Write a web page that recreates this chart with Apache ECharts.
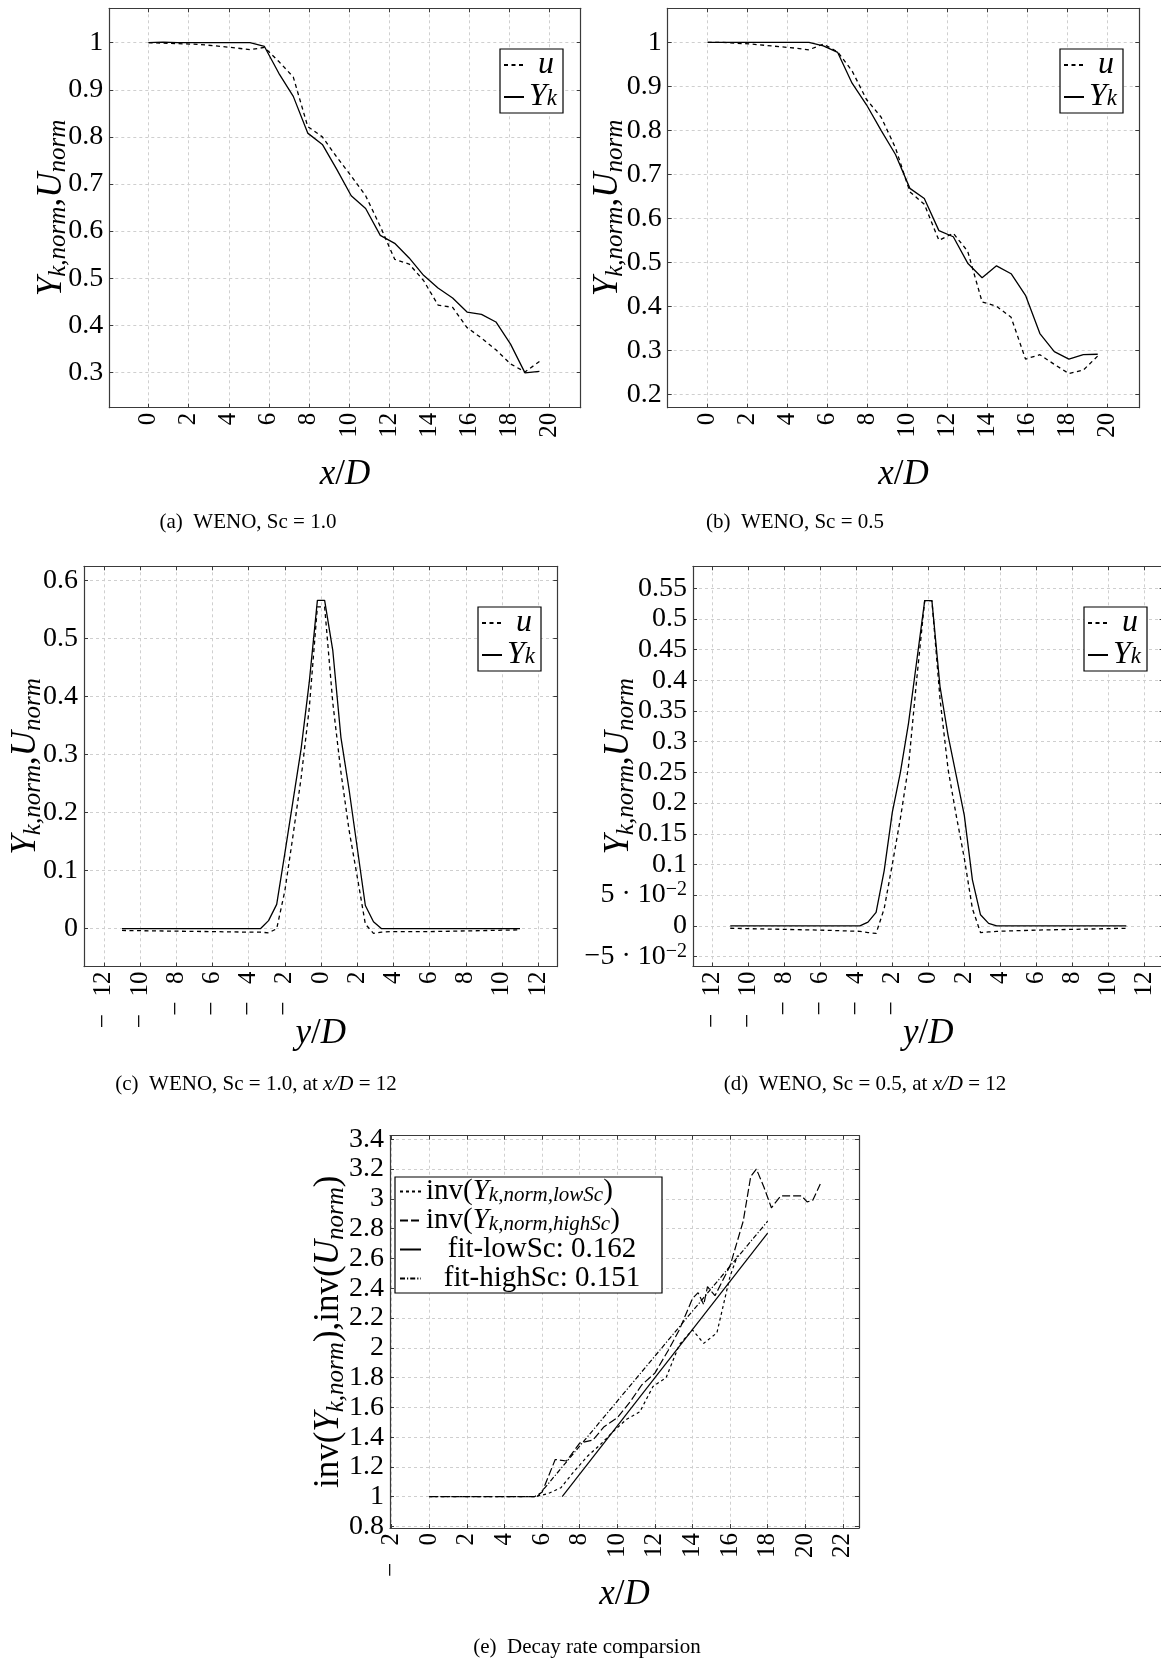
<!DOCTYPE html>
<html><head><meta charset="utf-8">
<script src="https://cdn.jsdelivr.net/npm/echarts@6/dist/echarts.min.js"></script>
<style>html,body{margin:0;padding:0;background:#fff}#c{width:1161px;height:1667px}</style>
</head><body><div id="c"></div>
<script>
// ---------- data ----------
const xAB = [0,0.72,1.44,2.17,2.89,3.61,4.33,5.06,5.78,6.5,7.22,7.94,8.67,9.39,10.11,10.83,11.56,12.28,13.0,13.72,14.44,15.17,15.89,16.61,17.33,18.06,18.78,19.5];
const uA  = [1.0,0.999,0.998,0.997,0.995,0.992,0.989,0.985,0.99,0.96,0.927,0.822,0.8,0.757,0.717,0.675,0.61,0.54,0.53,0.495,0.443,0.438,0.395,0.373,0.348,0.318,0.301,0.323];
const ykA = [1.0,1.001,1.0,1.0,1.0,1.0,1.0,1.0,0.992,0.935,0.886,0.808,0.784,0.731,0.675,0.648,0.591,0.574,0.543,0.506,0.479,0.458,0.428,0.423,0.407,0.36,0.299,0.302];
const uB  = [1.0,1.0,0.998,0.996,0.993,0.99,0.987,0.983,0.996,0.978,0.935,0.87,0.83,0.76,0.66,0.632,0.55,0.566,0.525,0.41,0.40,0.375,0.28,0.29,0.268,0.247,0.255,0.287];
const ykB = [1.0,1.0,1.0,1.0,1.0,1.0,1.0,1.0,0.992,0.977,0.907,0.858,0.80,0.745,0.668,0.645,0.572,0.558,0.498,0.465,0.492,0.474,0.425,0.338,0.297,0.28,0.29,0.291];

const xCD = [-11,-6,-3.8,-3.35,-2.9,-2.45,-2.0,-1.55,-1.1,-0.65,-0.2,0.2,0.65,1.1,1.55,2.0,2.45,2.9,3.35,3.8,6,11];
const uC  = [-0.003,-0.005,-0.006,-0.006,-0.007,0.0,0.065,0.16,0.26,0.38,0.555,0.555,0.39,0.27,0.17,0.09,0.008,-0.008,-0.006,-0.005,-0.005,-0.002];
const ykC = [0,0,0,0.0,0.014,0.042,0.13,0.22,0.31,0.425,0.566,0.566,0.48,0.33,0.24,0.14,0.04,0.012,0.0,0,0,0];
const uD  = [-0.004,-0.007,-0.009,-0.011,-0.0124,0.028,0.1,0.175,0.26,0.4,0.53,0.53,0.37,0.255,0.18,0.11,0.028,-0.011,-0.01,-0.009,-0.007,-0.004];
const ykD = [0,0,0,0.006,0.022,0.09,0.185,0.25,0.33,0.43,0.53,0.53,0.39,0.31,0.245,0.18,0.075,0.018,0.004,0,0,0];

const xELow = [0,2,4,5.6,6.3,7.0,7.7,8.4,9.1,9.8,10.5,11.2,11.9,12.6,13.3,14.0,14.6,15.3,16.0,16.4];
const eLow  = [1,1,1,1,1.02,1.06,1.17,1.27,1.35,1.44,1.52,1.57,1.74,1.80,2.02,2.12,2.03,2.10,2.48,2.62];
const xEHigh = [0,2,4,5.6,6.0,6.7,7.3,8.0,8.7,9.3,10.0,10.7,11.3,12.0,12.7,13.3,14.0,14.3,14.6,14.8,15.2,16.0,16.7,17.1,17.4,17.8,18.2,18.7,19.3,19.8,20.1,20.4,20.8];
const eHigh  = [1,1,1,1,1.03,1.25,1.24,1.36,1.38,1.47,1.53,1.64,1.75,1.83,1.98,2.12,2.33,2.37,2.29,2.41,2.35,2.55,2.85,3.15,3.2,3.08,2.94,3.02,3.02,3.02,2.98,2.99,3.1];
const fitLowX = [7.07,18], fitLowY = [1.0,2.77];
const fitHighX = [5.75,18], fitHighY = [1.0,2.85];

const captions = ['(a)  WENO, Sc = 1.0','(b)  WENO, Sc = 0.5','(c)  WENO, Sc = 1.0, at {i|x/D} = 12','(d)  WENO, Sc = 0.5, at {i|x/D} = 12','(e)  Decay rate comparsion'];

// ---------- helpers ----------
const F = 'Liberation Serif';
const pairs = (xs, ys) => xs.map((x, i) => [x, ys[i]]);
const NR = {
  m:{fontFamily:F,fontStyle:'italic',fontSize:35,lineHeight:40,color:'#000'},
  r:{fontFamily:F,fontSize:35,lineHeight:40,color:'#000'},
  s:{fontFamily:F,fontStyle:'italic',fontSize:25,lineHeight:17,verticalAlign:'bottom',color:'#000'}
};
const frame = {show:true,onZero:false,lineStyle:{color:'#3a3a3a',width:1.2}};
const tick = {show:true,inside:true,length:4,lineStyle:{color:'#3a3a3a',width:1}};
const split = {show:true,lineStyle:{type:[3,3],color:'#cfcfcf',width:1}};
const fmtX = v => v < 0 ? '\u2212\u2002\u2009' + Math.abs(v) : String(v);
const fmtY = v => String(+v.toFixed(3));
const fmtYd = v => {
  if (Math.abs(v - 0.05) < 1e-9) return '{n|5 \u00b7 10}{p|\u22122}';
  if (Math.abs(v + 0.05) < 1e-9) return '{n|\u22125 \u00b7 10}{p|\u22122}';
  return '{n|' + String(+v.toFixed(3)) + '}';
};
const ylabRich = {
  n:{fontFamily:F,fontSize:28,lineHeight:30,color:'#000'},
  p:{fontFamily:F,fontSize:20,lineHeight:14,verticalAlign:'top',color:'#000'}
};

const grids = [], xAxes = [], yAxes = [];
function addPanel(g, xr, xs, yr, ys, xname, yname, ynameGap, yfmt) {
  const gi = grids.length;
  grids.push(Object.assign({containLabel:false, outerBoundsMode:'none'}, g));
  xAxes.push({type:'value',gridIndex:gi,position:'bottom',min:xr[0],max:xr[1],splitNumber:xs,
    axisLine:frame,axisTick:tick,splitLine:split,
    axisLabel:{rotate:90,margin:5,fontSize:25,fontFamily:F,color:'#000',showMinLabel:false,showMaxLabel:false,formatter:fmtX},
    name:xname,nameLocation:'middle',nameGap:47,nameMoveOverlap:false,nameTextStyle:{rich:NR}});
  xAxes.push({type:'value',gridIndex:gi,position:'top',min:xr[0],max:xr[1],splitNumber:xs,
    axisLine:frame,axisTick:tick,splitLine:{show:false},axisLabel:{show:false}});
  yAxes.push({type:'value',gridIndex:gi,position:'left',min:yr[0],max:yr[1],splitNumber:ys,
    axisLine:frame,axisTick:tick,splitLine:split,
    axisLabel:{margin:6,fontSize:28,fontFamily:F,color:'#000',showMinLabel:false,showMaxLabel:false,formatter:yfmt,rich:ylabRich},
    name:yname,nameLocation:'middle',nameRotate:90,nameGap:ynameGap,nameMoveOverlap:false,nameTextStyle:{rich:NR}});
  yAxes.push({type:'value',gridIndex:gi,position:'right',min:yr[0],max:yr[1],splitNumber:ys,
    axisLine:frame,axisTick:tick,splitLine:{show:false},axisLabel:{show:false}});
  return gi;
}
const YN = '{m|Y}{s|k,norm}{r|,}{m|U}{s|norm}';
const YNE = '{r|inv(}{m|Y}{s|k,norm}{r|),inv(}{m|U}{s|norm}{r|)}';
const XN = '{m|x}{r|/}{m|D}', YDN = '{m|y}{r|/}{m|D}';

addPanel({left:109.3,top:8.3,width:471.4,height:399.4}, [-1.96,21.56],12, [0.225,1.073],8, XN, YN, 38, fmtY);
addPanel({left:667.7,top:8.3,width:471.6,height:399.4}, [-2.0,21.58],12, [0.1695,1.0773],9, XN, YN, 40, fmtY);
addPanel({left:84,top:566.3,width:473.3,height:400.3}, [-13.1,13.06],13, [-0.0653,0.6248],7, YDN, YN, 38, fmtY);
addPanel({left:693,top:566.3,width:470.6,height:400.2}, [-13.07,13.07],13, [-0.0663,0.5859],13, YDN, YN, 54, fmtYd);
addPanel({left:390,top:1135.7,width:469,height:392.3}, [-2.09,22.86],12, [0.79,3.424],13, XN, YNE, 41, fmtY);

const solid = {color:'#000',width:1.3,type:'solid'};
const dashed = {color:'#000',width:1.3,type:[4,3.5]};
function line(name, gi, data, ls) {
  return {type:'line',name,xAxisIndex:gi*2,yAxisIndex:gi*2,data,symbol:'none',showSymbol:false,
    lineStyle:ls,itemStyle:{color:'#000'},animation:false,z:3};
}
const series = [
  line('u',0,pairs(xAB,uA),dashed), line('Yk',0,pairs(xAB,ykA),solid),
  line('u',1,pairs(xAB,uB),dashed), line('Yk',1,pairs(xAB,ykB),solid),
  line('u',2,pairs(xCD,uC),dashed), line('Yk',2,pairs(xCD,ykC),solid),
  line('u',3,pairs(xCD,uD),dashed), line('Yk',3,pairs(xCD,ykD),solid),
  line('lowInv',4,pairs(xELow,eLow),{color:'#000',width:1.2,type:[3,3]}),
  line('highInv',4,pairs(xEHigh,eHigh),{color:'#000',width:1.2,type:[8,3]}),
  line('fitLow',4,pairs(fitLowX,fitLowY),{color:'#000',width:1.2,type:'solid'}),
  line('fitHigh',4,pairs(fitHighX,fitHighY),{color:'#000',width:1.2,type:[5,2,1.2,2]})
];

const LR = {
  u:{fontFamily:F,fontStyle:'italic',fontSize:32,lineHeight:26,padding:[0,0,0,9],color:'#000'},
  i:{fontFamily:F,fontStyle:'italic',fontSize:32,lineHeight:26,color:'#000'},
  s:{fontFamily:F,fontStyle:'italic',fontSize:23,lineHeight:8,verticalAlign:'bottom',color:'#000'}
};
function legUY(left, top) {
  return {orient:'vertical',left,top,padding:[0,6,0,3],itemGap:0,itemWidth:20,itemHeight:10,
    borderColor:'#000',borderWidth:1.2,backgroundColor:'#fff',borderRadius:0,selectedMode:false,
    data:['u','Yk'],formatter:n => n === 'u' ? '{u|u}' : '{i|Y}{s|k}',
    textStyle:{rich:LR,color:'#000'},itemStyle:{opacity:0},inactiveColor:'#000'};
}
const LRE = {
  r:{fontFamily:F,fontSize:29,lineHeight:29,color:'#000'},
  i:{fontFamily:F,fontStyle:'italic',fontSize:29,lineHeight:29,color:'#000'},
  s:{fontFamily:F,fontStyle:'italic',fontSize:21,lineHeight:10,verticalAlign:'bottom',color:'#000'},
  c:{fontFamily:F,fontSize:29,lineHeight:29,width:232,align:'center',color:'#000'}
};
const legE = {orient:'vertical',left:395,top:1177,padding:[0,4,0,4],itemGap:0,itemWidth:21,itemHeight:10,
  borderColor:'#000',borderWidth:1.2,backgroundColor:'#fff',borderRadius:0,selectedMode:false,
  data:['lowInv','highInv','fitLow','fitHigh'],
  formatter:n => ({lowInv:'{r|inv(}{i|Y}{s|k,norm,lowSc}{r|)}',highInv:'{r|inv(}{i|Y}{s|k,norm,highSc}{r|)}',
    fitLow:'{c|fit-lowSc: 0.162}',fitHigh:'{c|fit-highSc: 0.151}'})[n],
  textStyle:{rich:LRE,color:'#000'},itemStyle:{opacity:0}};

const capPos = [[248,522],[795,522],[256,1084.5],[865,1084.5],[587,1647]];
const graphic = captions.map((t, i) => ({type:'text',x:capPos[i][0],y:capPos[i][1],silent:true,
  style:{text:t,fontFamily:F,fontSize:21,fill:'#000',align:'center',verticalAlign:'middle',
    rich:{i:{fontFamily:F,fontStyle:'italic',fontSize:21,fill:'#000'}}}}));

const chart = echarts.init(document.getElementById('c'), null, {renderer:'canvas'});
chart.setOption({
  animation:false, backgroundColor:'#fff',
  grid:grids, xAxis:xAxes, yAxis:yAxes, series,
  legend:[legUY(500,49), legUY(1060,49), legUY(478,607), legUY(1084,607), legE],
  graphic
});
</script></body></html>
